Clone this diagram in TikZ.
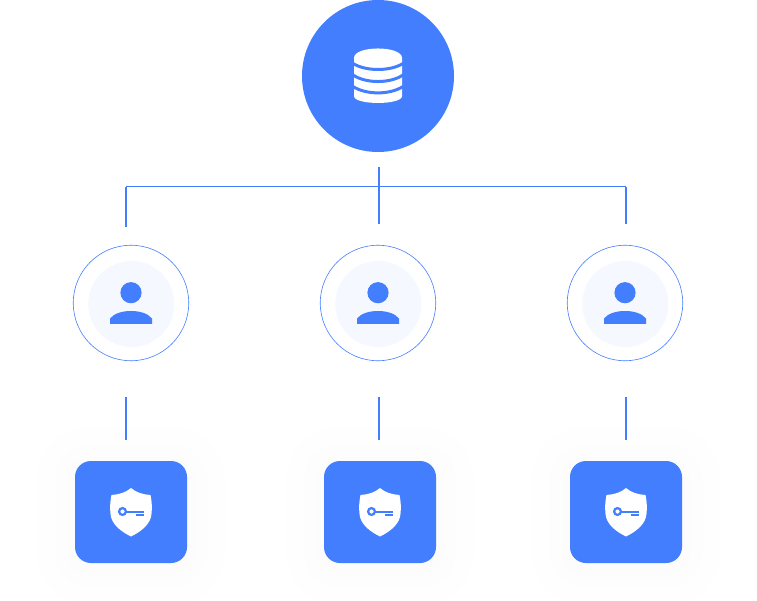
\documentclass[tikz,border=0pt]{standalone}
\usetikzlibrary{calc}
\definecolor{brand}{HTML}{437EFF}
\definecolor{pale}{HTML}{F5F8FF}
\tikzset{
  conn/.style={draw=brand,line width=1.6pt},
  thinconn/.style={draw=brand,line width=1pt},
  dbnode/.style={circle,fill=brand,inner sep=0pt,minimum size=152pt},
  usernode/.style={circle,draw=brand,line width=0.6pt,fill=white,inner sep=0pt,minimum size=115.5pt},
  keynode/.style={rounded corners=16pt,fill=brand,inner sep=0pt,minimum width=112pt,minimum height=102pt},
  person/.pic={
    \fill[pale] (0.3,1) circle (43);
    \fill[brand] (0,-10.3) circle (10.6);
    \fill[brand] (-21,21) -- (-21,15.5) .. controls (-17,10.5) and (-9,8) .. (0,8) .. controls (9,8) and (17,10.5) .. (21,15.5) -- (21,21) -- cycle;
  },
  shield/.pic={
    \fill[white] (0,-24) .. controls (-5,-19.5) and (-12,-17.5) .. (-19.5,-17) .. controls (-21.5,-7) and (-21,0) .. (-20,5)
      .. controls (-17.5,14) and (-9,20) .. (0,24.5) .. controls (9,20) and (17.5,14) .. (20,5)
      .. controls (21,0) and (21.5,-7) .. (19.5,-17) .. controls (12,-17.5) and (5,-19.5) .. (0,-24) -- cycle;
    \draw[brand,line width=2.2pt] (-8.5,-0.5) circle (3.4);
    \draw[brand,line width=2pt] (-5,-0.5) -- (13,-0.5);
    \draw[brand,line width=2pt] (4.5,3.3) -- (13,3.3);
  },
  softshadow/.pic={
    \foreach \g/\c in {44/0.12,38/0.25,32/0.4,26/0.55,20/0.75,14/0.95,8/1.15,2/1.3}{
      \fill[black!\c!white,rounded corners={16pt+\g pt}] (-56-\g,-51-\g+4) rectangle (56+\g,51+\g+4);
    }
  }
}
\begin{document}
\begin{tikzpicture}[x=1pt,y=-1pt]
\useasboundingbox (0,0) rectangle (757,601);
\fill[white] (0,0) rectangle (757,601);

% shadows below the key cards
\pic at (131,512) {softshadow};
\pic at (380,512) {softshadow};
\pic at (626,512) {softshadow};

% nodes
\node[dbnode] (db) at (378,76) {};
\node[usernode] (u1) at (131,303) {};
\node[usernode] (u2) at (378,303) {};
\node[usernode] (u3) at (625,303) {};
\node[keynode] (k1) at (131,512) {};
\node[keynode] (k2) at (380,512) {};
\node[keynode] (k3) at (626,512) {};

% database icon
\begin{scope}[shift={(db.center)}]
  \fill[white] (-24,-18) .. controls (-24,-30.7) and (24,-30.7) .. (24,-18)
    -- (24,20) .. controls (24,29.3) and (-24,29.3) .. (-24,20) -- cycle;
  \draw[brand,line width=3pt] (-25,-12.5) .. controls (-12,-4.5) and (12,-4.5) .. (25,-12.5);
  \draw[brand,line width=3pt] (-25,-1) .. controls (-12,7.7) and (12,7.7) .. (25,-1);
  \draw[brand,line width=3pt] (-25,10.5) .. controls (-12,19) and (12,19) .. (25,10.5);
\end{scope}

% icons
\pic at (u1.center) {person};
\pic at (u2.center) {person};
\pic at (u3.center) {person};
\pic at (131,512) {shield};
\pic at (380,512) {shield};
\pic at (626,512) {shield};

% connector ends
\coordinate (t0) at ($(db.south)+(1,15)$);
\coordinate (t1) at ($(u2.north)+(1,-20.5)$);
\coordinate (bar) at (379,187);
\coordinate (l1) at ($(u1.north)+(-5,-17.5)$);
\coordinate (r1) at ($(u3.north)+(1,-20.5)$);
\coordinate (a1) at ($(u1.south)+(-5,36)$);
\coordinate (a2) at ($(u2.south)+(1,36)$);
\coordinate (a3) at ($(u3.south)+(1,36)$);
\coordinate (b1) at ($(k1.north)+(-5,-20.5)$);
\coordinate (b2) at ($(k2.north)+(-1,-20.5)$);
\coordinate (b3) at ($(k3.north)+(0,-20.5)$);

% connectors
\draw[conn] (t0) -- (t1);
\draw[thinconn] (bar -| l1) -- (bar -| r1);
\draw[conn] (bar -| l1) -- (l1);
\draw[conn] (bar -| r1) -- (r1);
\draw[conn] (a1) -- (b1);
\draw[conn] (a2) -- (b2);
\draw[conn] (a3) -- (b3);
\end{tikzpicture}
\end{document}
